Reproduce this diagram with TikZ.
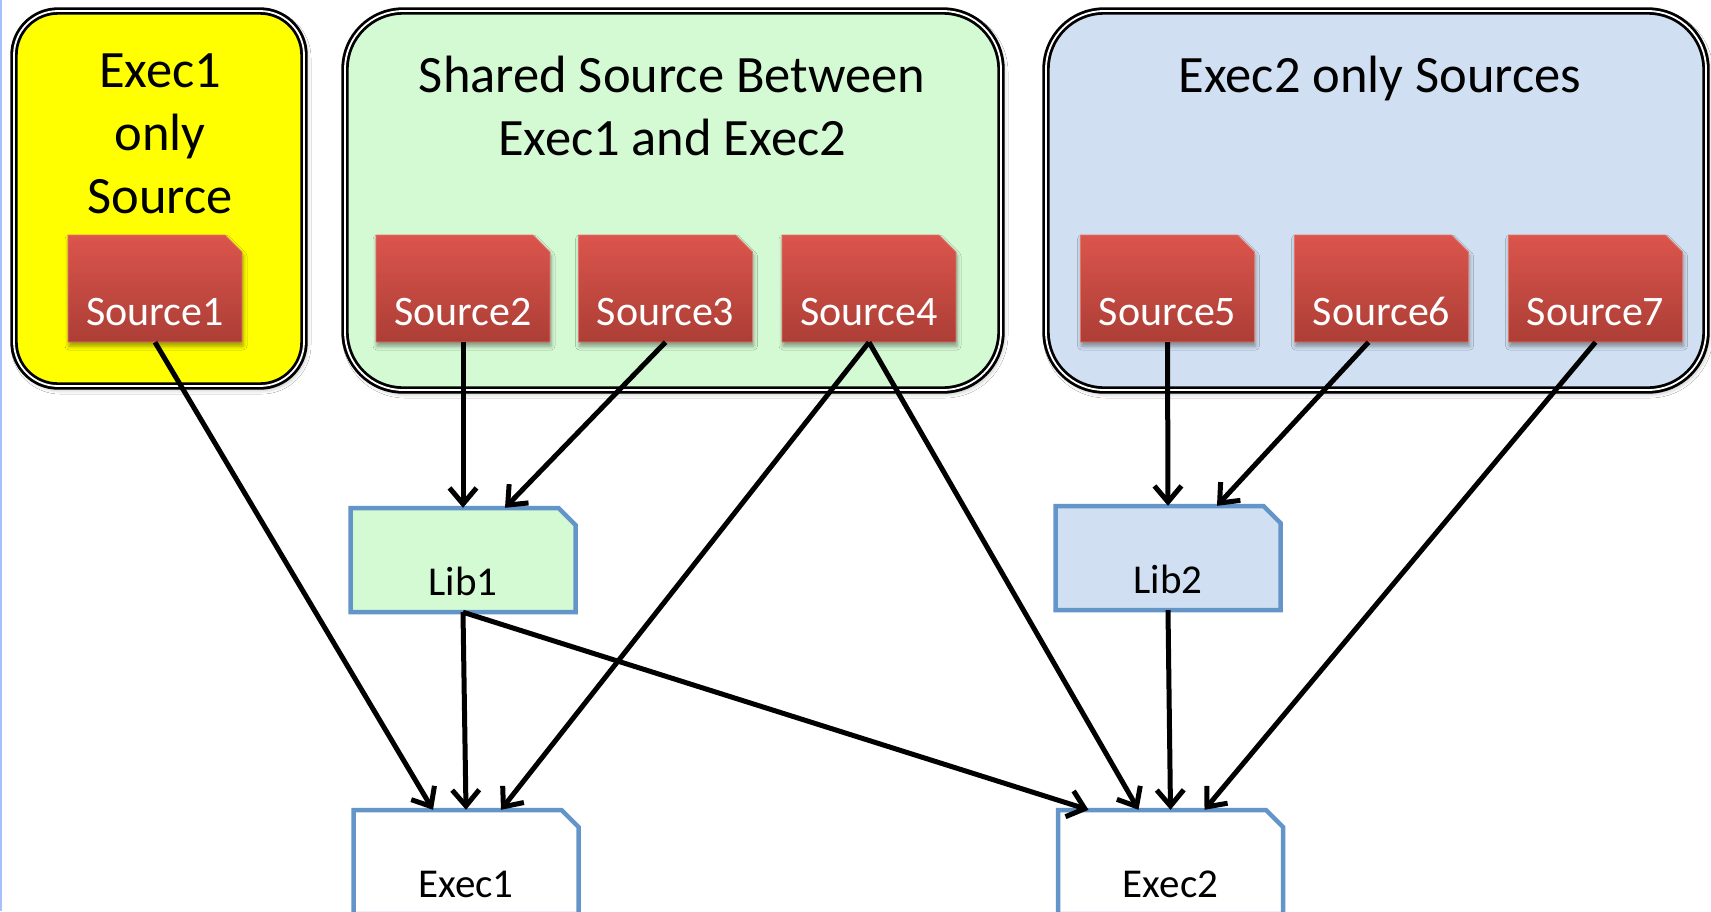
\documentclass[tikz,border=0pt]{standalone}
\usepackage{fontspec}
\setmainfont{Carlito}
\usetikzlibrary{arrows.meta,shadows.blur}

\definecolor{srcTop}{RGB}{219,85,76}
\definecolor{srcBot}{RGB}{172,62,54}
\definecolor{srcEdge}{RGB}{226,118,108}
\definecolor{grpYellow}{RGB}{255,255,0}
\definecolor{grpGreen}{RGB}{212,250,212}
\definecolor{grpBlue}{RGB}{208,224,242}
\definecolor{boxEdge}{RGB}{100,149,201}
\definecolor{edgeBlue}{RGB}{165,192,250}

% file symbol: a box with its top right corner cut off, and a named node on it
% #1 name, #2 shape style, #3 text style, #4 #5 centre, #6 width, #7 height, #8 text
\newcommand\filenode[8]{%
  \path[#2] ({#4-#6/2},{#5+#7/2}) -- ({#4-#6/2},{#5-#7/2})
    -- ({#4+#6/2-17},{#5-#7/2}) -- ({#4+#6/2},{#5-#7/2+17})
    -- ({#4+#6/2},{#5+#7/2}) -- cycle;
  \node[#3, minimum width=#6pt, minimum height=#7pt] (#1) at (#4,#5) {#8};}

\begin{document}
\begin{tikzpicture}[x=1pt,y=-1pt,
  grpbox/.style={rectangle, rounded corners=#1, draw=black, double=white,
    double distance=1.8pt, line width=2.8pt, inner sep=0pt,
    blur shadow={shadow xshift=2pt, shadow yshift=-3pt,
      shadow blur radius=5pt, shadow opacity=35}},
  grpbox/.default=58pt,
  ttl/.style={font=\fontsize{52.5}{63}\selectfont, anchor=base, inner sep=0pt},
  srcshape/.style={top color=srcTop, bottom color=srcBot, draw=srcEdge,
    line width=0.8pt, blur shadow={shadow xshift=1pt, shadow yshift=-4pt,
      shadow blur radius=4pt, shadow opacity=40}},
  libshape/.style={fill=#1, draw=boxEdge, line width=4.5pt},
  srctext/.style={rectangle, inner sep=0pt, text=white,
    font=\fontsize{42}{50}\selectfont, text height=73pt, text depth=0pt},
  libtext/.style={rectangle, inner sep=0pt, text=black,
    font=\fontsize{41}{49}\selectfont, text height=71pt, text depth=0pt},
  dep/.style={line width=5pt, -{Straight Barb[length=16pt,width=27pt]}}
]
\useasboundingbox (0,0) rectangle (1711,911);
\clip (0,0) rectangle (1711,911);
\fill[white] (0,0) rectangle (1711,911);
\draw[edgeBlue, line width=2pt] (1,0) -- (1,911);

% group containers
\node[grpbox=44pt, fill=grpYellow, minimum width=290pt, minimum height=375pt] (g1) at (159,198.5) {};
\node[grpbox, fill=grpGreen, minimum width=656pt, minimum height=379pt] (g2) at (673,200.5) {};
\node[grpbox, fill=grpBlue, minimum width=660pt, minimum height=379pt] (g3) at (1376,200.5) {};

% group titles
\node[ttl] (t1a) at (160,87) {Exec1};
\node[ttl] (t1b) at (160,150) {only};
\node[ttl] (t1c) at (160,213) {Source};
\node[ttl] (t2a) at (672,92) {Shared Source Between};
\node[ttl] (t2b) at (672,155) {Exec1 and Exec2};
\node[ttl] (t3a) at (1380,92) {Exec2 only Sources};

% source files
\filenode{s1}{srcshape}{srctext}{155}{288.5}{174}{107}{Source1}
\filenode{s2}{srcshape}{srctext}{463}{288.5}{174}{107}{Source2}
\filenode{s3}{srcshape}{srctext}{665.5}{288.5}{174}{107}{Source3}
\filenode{s4}{srcshape}{srctext}{869}{288.5}{174}{107}{Source4}
\filenode{s5}{srcshape}{srctext}{1167.5}{288.5}{174}{107}{Source5}
\filenode{s6}{srcshape}{srctext}{1381.5}{288.5}{174}{107}{Source6}
\filenode{s7}{srcshape}{srctext}{1595.5}{288.5}{174}{107}{Source7}

% libraries and executables
\filenode{lib1}{libshape=grpGreen}{libtext}{463}{560}{225}{104}{Lib1}
\filenode{lib2}{libshape=grpBlue}{libtext}{1168}{558}{225}{104}{Lib2}
\filenode{ex1}{libshape=white}{libtext}{466}{862}{225}{104}{Exec1}
\filenode{ex2}{libshape=white}{libtext}{1170.5}{862}{225}{104}{Exec2}

% dependencies
\draw[dep] (s1.south) -- ([xshift=-33pt]ex1.north);
\draw[dep] (s2.south) -- (lib1.north);
\draw[dep] (s3.south) -- ([xshift=42pt]lib1.north);
\draw[dep] (s4.south) -- ([xshift=35pt]ex1.north);
\draw[dep] (s4.south) -- ([xshift=-32pt]ex2.north);
\draw[dep] (lib1.south) -- (ex1.north);
\draw[dep] (lib1.south) -- ([xshift=-82pt]ex2.north);
\draw[dep] (s5.south) -- (lib2.north);
\draw[dep] ([xshift=-13pt]s6.south) -- ([xshift=49pt]lib2.north);
\draw[dep] (lib2.south) -- (ex2.north);
\draw[dep] (s7.south) -- ([xshift=34pt]ex2.north);
\end{tikzpicture}
\end{document}
